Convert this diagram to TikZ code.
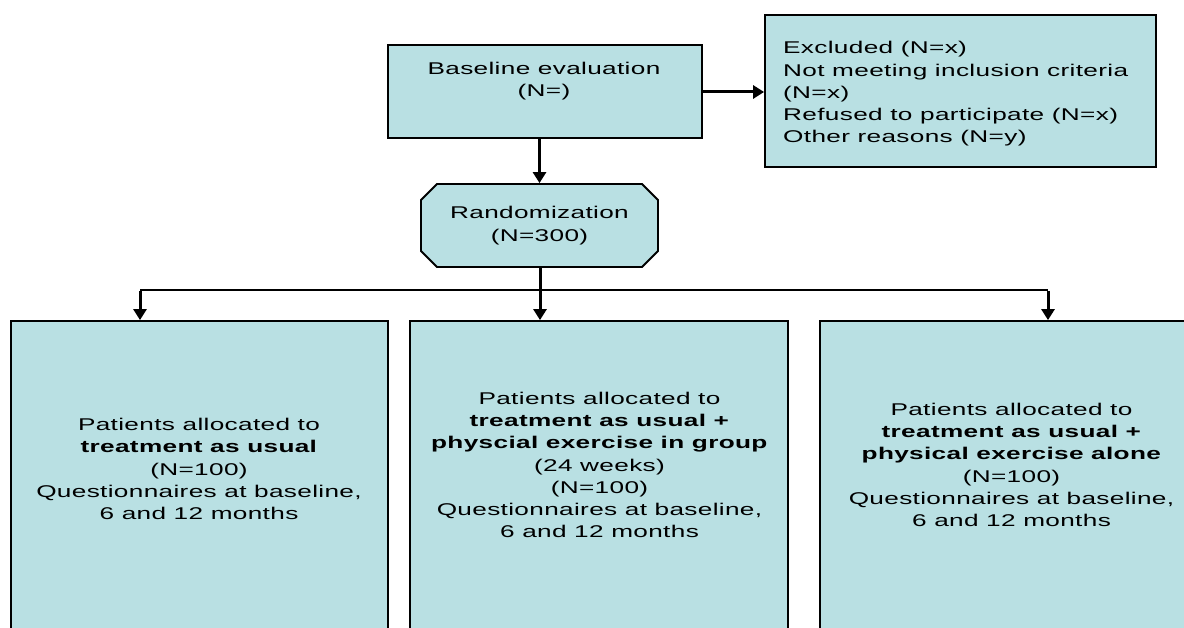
\documentclass[tikz,border=0pt]{standalone}
\usepackage{fontspec}
\setmainfont{Liberation Sans}[FakeStretch=1.54,LetterSpace=2]
\usetikzlibrary{arrows.meta,shapes.misc}
\definecolor{boxfill}{RGB}{185,224,227}
\tikzset{
  box/.style={draw=black, line width=1.8pt, fill=boxfill, rectangle, inner sep=0pt},
  chambox/.style={draw=black, line width=1.8pt, fill=boxfill, chamfered rectangle,
    chamfered rectangle xsep=8pt, chamfered rectangle ysep=8pt, inner sep=0pt, align=center},
  txt/.style={align=center, inner sep=0pt},
  thickarrow/.style={line width=3pt, -{Triangle[width=13pt,length=11pt]}},
  thinline/.style={line width=1.4pt},
}
\begin{document}
\begin{tikzpicture}[x=1pt,y=-1pt,font=\fontsize{17}{22.3}\selectfont]
\useasboundingbox (0,0) rectangle (1184,628);
\clip (0,0) rectangle (1184,628);
\fill[white] (0,0) rectangle (1184,628);

% top boxes
\node[box, minimum width=314pt, minimum height=93pt] (base) at (545,91.5) {};
\node[txt] (basetxt) at (544,81) {Baseline evaluation\\(N=)};

\node[box, minimum width=391pt, minimum height=152pt] (excl) at (960.5,91) {};
\node[txt, align=left, anchor=west] (excltxt) at (783,94)
  {Excluded (N=x)\\Not meeting inclusion criteria\\(N=x)\\Refused to participate (N=x)\\Other reasons (N=y)};

\node[chambox, minimum width=237pt, minimum height=83pt] (rand) at (539.5,225.5) {Randomization\\(N=300)};

% bottom boxes
\node[box, minimum width=377pt, minimum height=330pt] (b1) at (199.5,486) {};
\node[box, minimum width=378pt, minimum height=330pt] (b2) at (599,486) {};
\node[box, minimum width=400pt, minimum height=330pt] (b3) at (1020,486) {};

\node[txt] (t1) at (199,469) {Patients allocated to\\\textbf{treatment as usual}\\(N=100)\\Questionnaires at baseline,\\6 and 12 months};
\node[txt] (t2) at (599.5,465) {Patients allocated to\\\textbf{treatment as usual +}\\\textbf{physcial exercise in group}\\(24 weeks)\\(N=100)\\Questionnaires at baseline,\\6 and 12 months};
\node[txt] (t3) at (1011.5,465) {Patients allocated to\\\textbf{treatment as usual +}\\\textbf{physical exercise alone}\\(N=100)\\Questionnaires at baseline,\\6 and 12 months};

% connectors
\draw[thickarrow] (base.east |- 0,92) -- (excl.west |- 0,92);
\draw[thickarrow] (rand.north |- base.south) -- (rand.north);

\coordinate (split) at (540,290);
\coordinate (bl) at (140,290);
\coordinate (br) at (1048,290);
\draw[thinline] (bl) -- (br);
\draw[thickarrow] (rand.south -| split) -- (split |- b2.north);
\draw[thickarrow] ([yshift=-1pt]bl) -- (bl |- b1.north);
\draw[thickarrow] ([yshift=-1pt]br) -- (br |- b3.north);
\end{tikzpicture}
\end{document}
